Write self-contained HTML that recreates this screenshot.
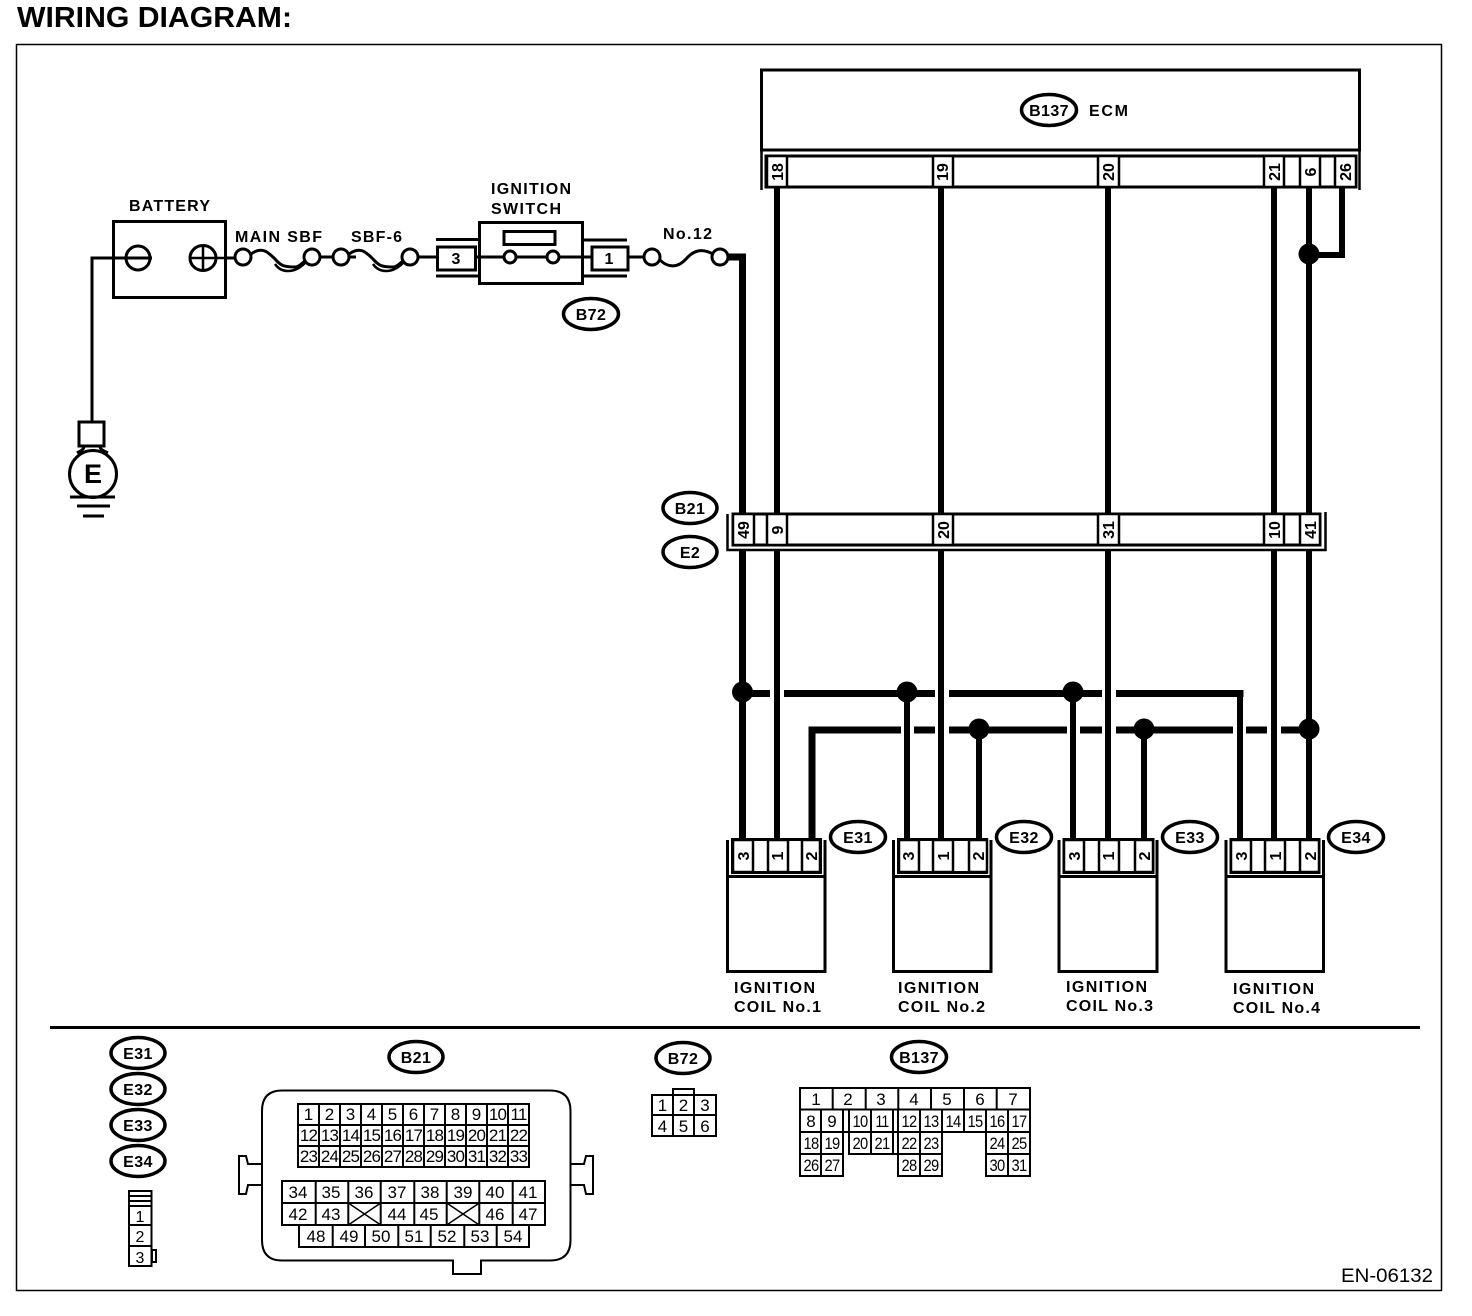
<!DOCTYPE html>
<html lang="en">
<head>
<meta charset="utf-8">
<title>Wiring Diagram</title>
<style>
html,body{margin:0;padding:0;background:#fff;}
svg{display:block;}
text{font-family:"Liberation Sans",Arial,sans-serif;fill:#000;}
.l{font-weight:bold;font-size:16px;}
.o{font-weight:bold;font-size:16px;text-anchor:middle;letter-spacing:.4px;}
.p{font-weight:bold;font-size:16px;text-anchor:middle;}
.g{font-size:17px;text-anchor:middle;}
.n{font-size:17px;text-anchor:middle;letter-spacing:-.8px;}
.w{stroke:#000;stroke-width:6;fill:none;}
.b{stroke:#000;stroke-width:7;fill:none;}
.s{stroke:#000;stroke-width:3;fill:#fff;}
.t{stroke:#000;stroke-width:2;fill:#fff;}
.e{stroke:#000;stroke-width:3.5;fill:#fff;}
</style>
</head>
<body>
<svg width="1472" height="1316" viewBox="0 0 1472 1316" xmlns="http://www.w3.org/2000/svg">
<rect width="1472" height="1316" fill="#fff"/>
<text x="17" y="27" font-size="29" font-weight="bold" textLength="275" lengthAdjust="spacingAndGlyphs">WIRING DIAGRAM:</text>
<rect x="16.5" y="44.5" width="1425" height="1246" fill="none" stroke="#000" stroke-width="1.5"/>

<!-- Left wiring -->
<path d="M138,258H92V422" fill="none" stroke="#000" stroke-width="3"/>
<path d="M216,258H235M320,257H333M349,257H356M418,257H437M476,257H503M517,257H546M560,257H591M628,257H644" stroke="#000" stroke-width="3" fill="none"/>
<rect x="113.5" y="221.5" width="112" height="76" class="s"/>
<path d="M92,258H152" stroke="#000" stroke-width="3"/>
<ellipse cx="138" cy="258" rx="12" ry="12" fill="none" stroke="#000" stroke-width="3"/>
<ellipse cx="203" cy="258" rx="13" ry="12.5" fill="none" stroke="#000" stroke-width="3"/>
<path d="M190,258H235M203,246V270" stroke="#000" stroke-width="2.5" fill="none"/>
<rect x="79" y="422" width="25" height="24" class="s"/>
<path d="M84,446C84,450 80,451 77,453M100,446C100,450 104,451 108,453" stroke="#000" stroke-width="3" fill="none"/>
<ellipse cx="93" cy="474" rx="23.500" ry="23.500" class="s"/>
<text x="93" y="483" font-size="27" font-weight="bold" text-anchor="middle">E</text>
<path d="M70,497H115M77,506H110M83,516H104" stroke="#000" stroke-width="3" fill="none"/>

<!-- Fuses -->
<g fill="none" stroke="#000" stroke-width="3">
<path d="M251,254C262,246 268,252 275,259C281,266 284,267 296,267C300,266 302,263 305,261"/>
<path d="M275,264C281,273 294,274 305,263" stroke-width="2.500"/>
<path d="M349,254C360,246 366,252 373,259C379,266 382,267 394,267C398,266 400,263 403,261"/>
<path d="M373,264C379,273 392,274 403,263" stroke-width="2.500"/>
<path d="M660,260C668,268 678,268 686,259C694,250 702,248 713,254"/>
</g>
<g fill="#fff" stroke="#000" stroke-width="3">
<circle cx="243" cy="257" r="8"/><circle cx="312" cy="257" r="8"/>
<circle cx="341" cy="257" r="8"/><circle cx="410" cy="257" r="8"/>
<circle cx="510" cy="257" r="6"/><circle cx="553" cy="257" r="6"/>
<circle cx="652" cy="257" r="8"/><circle cx="720" cy="257" r="8"/>
</g>

<!-- Ignition switch -->
<path d="M436,239.500H479M436,276H479M583,240H627M583,276H627" stroke="#000" stroke-width="3" fill="none"/>
<rect x="437.500" y="247" width="38" height="23" class="s"/>
<rect x="479.500" y="222.500" width="103" height="61" fill="none" stroke="#000" stroke-width="3"/>
<rect x="504" y="231.500" width="51" height="13" class="s"/>
<rect x="592" y="247" width="36" height="23" class="s"/>
<text x="456" y="264" font-size="16" font-weight="bold" text-anchor="middle">3</text>
<text x="609" y="264" font-size="16" font-weight="bold" text-anchor="middle">1</text>

<text x="129" y="211" class="l" textLength="81">BATTERY</text>
<text x="235" y="242" class="l" textLength="87">MAIN SBF</text>
<text x="351" y="242" class="l" textLength="51">SBF-6</text>
<text x="491" y="194" class="l" textLength="80">IGNITION</text>
<text x="491" y="214" class="l" textLength="70">SWITCH</text>
<text x="663" y="239" class="l" textLength="49">No.12</text>
<ellipse cx="591" cy="314" rx="27.500" ry="15.500" class="e"/>
<text x="591" y="320" class="o">B72</text>

<!-- ECM -->
<rect x="761.500" y="70" width="598" height="80" fill="#fff" stroke="#000" stroke-width="3"/>
<path d="M761.500,150V190M1359.500,150V190" stroke="#000" stroke-width="2.500"/>
<rect x="766" y="156" width="590" height="31" class="s"/>
<g stroke="#000" stroke-width="2.500" fill="#fff">
<rect x="767" y="156" width="20" height="31"/>
<rect x="933" y="156" width="20" height="31"/>
<rect x="1098" y="156" width="21" height="31"/>
<rect x="1264" y="156" width="20" height="31"/>
<rect x="1300" y="156" width="20" height="31"/>
<rect x="1335" y="156" width="21" height="31"/>
</g>
<text transform="translate(783,172) rotate(-90)" class="p">18</text>
<text transform="translate(948,172) rotate(-90)" class="p">19</text>
<text transform="translate(1114,172) rotate(-90)" class="p">20</text>
<text transform="translate(1280,172) rotate(-90)" class="p">21</text>
<text transform="translate(1316,172) rotate(-90)" class="p">6</text>
<text transform="translate(1351,172) rotate(-90)" class="p">26</text>
<ellipse cx="1049" cy="110" rx="27.500" ry="15.500" class="e"/>
<text x="1049" y="116" class="o">B137</text>
<text x="1089" y="116" class="l" textLength="39">ECM</text>

<!-- Main wires ECM to B21 -->
<path d="M777,187V515M941,187V515M1108,187V515M1274,187V515M1309,187V515" class="w"/>
<path d="M1342,187V255H1309" class="w"/>
<ellipse cx="1309" cy="254" rx="10.500" ry="10.500" fill="#000"/>
<path d="M728,257H742.500V515" class="b"/>

<!-- B21 / E2 connector -->
<path d="M727.500,514V550H1325.500V512" fill="none" stroke="#000" stroke-width="2.500"/>
<rect x="733" y="514" width="587" height="31" class="s"/>
<g stroke="#000" stroke-width="2.500" fill="#fff">
<rect x="733" y="514" width="21" height="31"/>
<rect x="767" y="514" width="20" height="31"/>
<rect x="933" y="514" width="20" height="31"/>
<rect x="1098" y="514" width="21" height="31"/>
<rect x="1264" y="514" width="20" height="31"/>
<rect x="1300" y="514" width="20" height="31"/>
</g>
<text transform="translate(749,530) rotate(-90)" class="p">49</text>
<text transform="translate(783,530) rotate(-90)" class="p">9</text>
<text transform="translate(949,530) rotate(-90)" class="p">20</text>
<text transform="translate(1114,530) rotate(-90)" class="p">31</text>
<text transform="translate(1280,530) rotate(-90)" class="p">10</text>
<text transform="translate(1316,530) rotate(-90)" class="p">41</text>
<ellipse cx="690" cy="508" rx="27" ry="15.500" class="e"/>
<text x="690" y="514" class="o">B21</text>
<ellipse cx="690" cy="552" rx="27" ry="15.500" class="e"/>
<text x="690" y="558" class="o">E2</text>

<!-- Wires below B21 -->
<path d="M742.500,551V840" class="b"/>
<path d="M777,551V840M941,551V840M1108,551V840M1274,551V840M1309,551V840M907,692V840M1073,692V840M979,730V840M1144,730V840" class="w"/>
<path d="M742,693.500H770M784,693.500H935M949,693.500H1102M1116,693.500H1243.500" class="b"/>
<path d="M1240,693V840" class="w"/>
<path d="M812,840V730H901M914,730H935M949,730H1067M1080,730H1102M1116,730H1233M1246,730H1267M1281,730H1309" class="b"/>
<g fill="#000">
<ellipse cx="742.500" cy="692" rx="10.500" ry="10.500"/>
<ellipse cx="907" cy="692" rx="10.500" ry="10.500"/>
<ellipse cx="1073" cy="692" rx="10.500" ry="10.500"/>
<ellipse cx="979" cy="729" rx="10.500" ry="10.500"/>
<ellipse cx="1144" cy="729" rx="10.500" ry="10.500"/>
<ellipse cx="1309" cy="729" rx="10.500" ry="10.500"/>
</g>

<!-- Coils -->
<g>
<path d="M727.500,840V971.500H825V840" fill="none" stroke="#000" stroke-width="3"/>
<path d="M727.500,876.500H825" stroke="#000" stroke-width="3"/>
<rect x="732.500" y="839.500" width="88" height="33" class="s"/>
<g stroke="#000" stroke-width="2.500" fill="#fff">
<rect x="733" y="840" width="20" height="32"/>
<rect x="768" y="840" width="20" height="32"/>
<rect x="802" y="840" width="18" height="32"/>
</g>
<text transform="translate(749,856) rotate(-90)" class="p">3</text>
<text transform="translate(783,856) rotate(-90)" class="p">1</text>
<text transform="translate(817,856) rotate(-90)" class="p">2</text>
</g>
<g>
<path d="M893.500,840V971.500H991V840" fill="none" stroke="#000" stroke-width="3"/>
<path d="M893.500,876.500H991" stroke="#000" stroke-width="3"/>
<rect x="898.500" y="839.500" width="88" height="33" class="s"/>
<g stroke="#000" stroke-width="2.500" fill="#fff">
<rect x="899" y="840" width="20" height="32"/>
<rect x="933" y="840" width="20" height="32"/>
<rect x="969" y="840" width="18" height="32"/>
</g>
<text transform="translate(914,856) rotate(-90)" class="p">3</text>
<text transform="translate(949,856) rotate(-90)" class="p">1</text>
<text transform="translate(984,856) rotate(-90)" class="p">2</text>
</g>
<g>
<path d="M1059,840V971.500H1157V840" fill="none" stroke="#000" stroke-width="3"/>
<path d="M1059,876.500H1157" stroke="#000" stroke-width="3"/>
<rect x="1064" y="839.500" width="89" height="33" class="s"/>
<g stroke="#000" stroke-width="2.500" fill="#fff">
<rect x="1064" y="840" width="20" height="32"/>
<rect x="1099" y="840" width="20" height="32"/>
<rect x="1135" y="840" width="18" height="32"/>
</g>
<text transform="translate(1080,856) rotate(-90)" class="p">3</text>
<text transform="translate(1114,856) rotate(-90)" class="p">1</text>
<text transform="translate(1150,856) rotate(-90)" class="p">2</text>
</g>
<g>
<path d="M1226,840V971.500H1323.500V840" fill="none" stroke="#000" stroke-width="3"/>
<path d="M1226,876.500H1323.500" stroke="#000" stroke-width="3"/>
<rect x="1231" y="839.500" width="88" height="33" class="s"/>
<g stroke="#000" stroke-width="2.500" fill="#fff">
<rect x="1231" y="840" width="20" height="32"/>
<rect x="1265" y="840" width="20" height="32"/>
<rect x="1300" y="840" width="19" height="32"/>
</g>
<text transform="translate(1247,856) rotate(-90)" class="p">3</text>
<text transform="translate(1281,856) rotate(-90)" class="p">1</text>
<text transform="translate(1316,856) rotate(-90)" class="p">2</text>
</g>
<ellipse cx="858" cy="837" rx="27.500" ry="15.500" class="e"/><text x="858" y="843" class="o">E31</text>
<ellipse cx="1024" cy="837" rx="27.500" ry="15.500" class="e"/><text x="1024" y="843" class="o">E32</text>
<ellipse cx="1190" cy="837" rx="27.500" ry="15.500" class="e"/><text x="1190" y="843" class="o">E33</text>
<ellipse cx="1356" cy="837" rx="27.500" ry="15.500" class="e"/><text x="1356" y="843" class="o">E34</text>

<text x="734" y="993" class="l" textLength="81">IGNITION</text>
<text x="734" y="1012" class="l" textLength="87">COIL No.1</text>
<text x="898" y="993" class="l" textLength="81">IGNITION</text>
<text x="898" y="1012" class="l" textLength="87">COIL No.2</text>
<text x="1066" y="992" class="l" textLength="81">IGNITION</text>
<text x="1066" y="1011" class="l" textLength="87">COIL No.3</text>
<text x="1233" y="994" class="l" textLength="81">IGNITION</text>
<text x="1233" y="1013" class="l" textLength="87">COIL No.4</text>

<path d="M50,1027.500H1420" stroke="#000" stroke-width="3"/>

<!-- Legend: E31..E34 -->
<ellipse cx="138" cy="1053" rx="27" ry="15.500" class="e"/><text x="138" y="1059" class="o">E31</text>
<ellipse cx="138" cy="1089" rx="27" ry="15.500" class="e"/><text x="138" y="1095" class="o">E32</text>
<ellipse cx="138" cy="1125" rx="27" ry="15.500" class="e"/><text x="138" y="1131" class="o">E33</text>
<ellipse cx="138" cy="1161" rx="27" ry="15.500" class="e"/><text x="138" y="1167" class="o">E34</text>
<rect x="129" y="1191" width="22.500" height="75" class="t"/>
<path d="M129,1196H151M129,1201H151M129,1206H151M129,1225H151M129,1246H151" stroke="#000" stroke-width="2" fill="none"/>
<rect x="152" y="1250" width="4" height="12" class="t"/>
<text x="140" y="1222" font-size="16" text-anchor="middle">1</text>
<text x="140" y="1242" font-size="16" text-anchor="middle">2</text>
<text x="140" y="1263" font-size="16" text-anchor="middle">3</text>

<!-- Legend: B21 -->
<ellipse cx="416" cy="1057" rx="27" ry="15.500" class="e"/><text x="416" y="1063" class="o">B21</text>
<path d="M282,1090.500H550Q570.500,1090.500 570.500,1111V1240Q570.500,1260.500 550,1260.500H481V1274H453V1260.500H282Q262,1260.500 262,1240V1111Q262,1090.500 282,1090.500Z" fill="#fff" stroke="#000" stroke-width="2"/>
<path d="M570.500,1164H584L586,1156H593V1194H586L584,1185H570.500M262,1164H248L246,1156H239V1194H246L248,1185H262" fill="none" stroke="#000" stroke-width="2"/>
<g fill="none" stroke="#000" stroke-width="2">
<rect x="298" y="1104" width="231" height="63"/>
<path d="M298,1125H529M298,1146H529M319,1104V1167M340,1104V1167M361,1104V1167M382,1104V1167M403,1104V1167M424,1104V1167M445,1104V1167M466,1104V1167M487,1104V1167M508,1104V1167"/>
<rect x="282" y="1181" width="263" height="44"/>
<path d="M282,1203H545M315.700,1181V1225M348.300,1181V1225M380.700,1181V1225M414.300,1181V1225M446.700,1181V1225M479.300,1181V1225M512.700,1181V1225"/>
<rect x="299" y="1225" width="230" height="22"/>
<path d="M332.700,1225V1247M365,1225V1247M398.300,1225V1247M430.700,1225V1247M464.300,1225V1247M496.700,1225V1247"/>
<path d="M348.300,1203L380.700,1225M348.300,1225L380.700,1203M446.700,1203L479.300,1225M446.700,1225L479.300,1203" stroke-width="1.500"/>
</g>
<text x="308.500" y="1120" class="g">1</text><text x="329.500" y="1120" class="g">2</text><text x="350.500" y="1120" class="g">3</text><text x="371.500" y="1120" class="g">4</text><text x="392.500" y="1120" class="g">5</text><text x="413.500" y="1120" class="g">6</text><text x="434.500" y="1120" class="g">7</text><text x="455.500" y="1120" class="g">8</text><text x="476.500" y="1120" class="g">9</text><text x="497.500" y="1120" class="n">10</text><text x="518.500" y="1120" class="n">11</text>
<text x="308.500" y="1141" class="n">12</text><text x="329.500" y="1141" class="n">13</text><text x="350.500" y="1141" class="n">14</text><text x="371.500" y="1141" class="n">15</text><text x="392.500" y="1141" class="n">16</text><text x="413.500" y="1141" class="n">17</text><text x="434.500" y="1141" class="n">18</text><text x="455.500" y="1141" class="n">19</text><text x="476.500" y="1141" class="n">20</text><text x="497.500" y="1141" class="n">21</text><text x="518.500" y="1141" class="n">22</text>
<text x="308.500" y="1162" class="n">23</text><text x="329.500" y="1162" class="n">24</text><text x="350.500" y="1162" class="n">25</text><text x="371.500" y="1162" class="n">26</text><text x="392.500" y="1162" class="n">27</text><text x="413.500" y="1162" class="n">28</text><text x="434.500" y="1162" class="n">29</text><text x="455.500" y="1162" class="n">30</text><text x="476.500" y="1162" class="n">31</text><text x="497.500" y="1162" class="n">32</text><text x="518.500" y="1162" class="n">33</text>
<text x="298" y="1198" class="g">34</text><text x="331" y="1198" class="g">35</text><text x="364" y="1198" class="g">36</text><text x="397" y="1198" class="g">37</text><text x="430" y="1198" class="g">38</text><text x="463" y="1198" class="g">39</text><text x="495" y="1198" class="g">40</text><text x="528" y="1198" class="g">41</text>
<text x="298" y="1220" class="g">42</text><text x="331" y="1220" class="g">43</text><text x="397" y="1220" class="g">44</text><text x="429" y="1220" class="g">45</text><text x="495" y="1220" class="g">46</text><text x="528" y="1220" class="g">47</text>
<text x="316" y="1242" class="g">48</text><text x="349" y="1242" class="g">49</text><text x="381" y="1242" class="g">50</text><text x="414" y="1242" class="g">51</text><text x="447" y="1242" class="g">52</text><text x="480" y="1242" class="g">53</text><text x="513" y="1242" class="g">54</text>

<!-- Legend: B72 -->
<ellipse cx="683" cy="1058" rx="27" ry="15.500" class="e"/><text x="683" y="1064" class="o">B72</text>
<g fill="none" stroke="#000" stroke-width="2">
<rect x="673" y="1089" width="21" height="6"/>
<rect x="652" y="1095" width="64" height="41"/>
<path d="M652,1115H716M673,1095V1136M694,1095V1136"/>
</g>
<text x="662.500" y="1111" class="g">1</text><text x="683.500" y="1111" class="g">2</text><text x="705" y="1111" class="g">3</text>
<text x="662.500" y="1132" class="g">4</text><text x="683.500" y="1132" class="g">5</text><text x="705" y="1132" class="g">6</text>

<!-- Legend: B137 -->
<ellipse cx="919" cy="1057" rx="27.500" ry="15.500" class="e"/><text x="919" y="1063" class="o">B137</text>
<g fill="none" stroke="#000" stroke-width="2">
<rect x="800" y="1088" width="230" height="21.500"/>
<path d="M832.700,1088V1109M865.700,1088V1109M898.300,1088V1109M931,1088V1109M964,1088V1109M996.700,1088V1109"/>
<path d="M800,1109.500V1176H843V1132H849V1154H898V1176H942V1132H986V1176H1030V1109.500"/>
<path d="M800,1132H843M800,1154H843M849,1132H986M986,1132H1030M986,1154H1030M898,1154H942M821,1109.500V1176M843,1109.500V1132M849,1109.500V1132M871,1109.500V1154M893,1109.500V1154M898,1109.500V1154M920,1109.500V1176M942,1109.500V1132M964,1109.500V1132M986,1109.500V1132M1008,1109.500V1176"/>
</g>
<text x="816" y="1105" class="g">1</text><text x="848" y="1105" class="g">2</text><text x="881" y="1105" class="g">3</text><text x="914" y="1105" class="g">4</text><text x="947" y="1105" class="g">5</text><text x="980" y="1105" class="g">6</text><text x="1013" y="1105" class="g">7</text>
<text x="811" y="1127" class="g">8</text><text x="832" y="1127" class="g">9</text>
<text x="860" y="1127" class="n" textLength="15" lengthAdjust="spacingAndGlyphs">10</text><text x="882" y="1127" class="n" textLength="13" lengthAdjust="spacingAndGlyphs">11</text>
<text x="909" y="1127" class="n" textLength="15" lengthAdjust="spacingAndGlyphs">12</text><text x="931" y="1127" class="n" textLength="15" lengthAdjust="spacingAndGlyphs">13</text>
<text x="953" y="1127" class="n" textLength="15" lengthAdjust="spacingAndGlyphs">14</text><text x="975" y="1127" class="n" textLength="15" lengthAdjust="spacingAndGlyphs">15</text>
<text x="997" y="1127" class="n" textLength="15" lengthAdjust="spacingAndGlyphs">16</text><text x="1019" y="1127" class="n" textLength="15" lengthAdjust="spacingAndGlyphs">17</text>
<text x="811" y="1149" class="n" textLength="15" lengthAdjust="spacingAndGlyphs">18</text><text x="832" y="1149" class="n" textLength="15" lengthAdjust="spacingAndGlyphs">19</text>
<text x="860" y="1149" class="n" textLength="15" lengthAdjust="spacingAndGlyphs">20</text><text x="882" y="1149" class="n" textLength="15" lengthAdjust="spacingAndGlyphs">21</text>
<text x="909" y="1149" class="n" textLength="15" lengthAdjust="spacingAndGlyphs">22</text><text x="931" y="1149" class="n" textLength="15" lengthAdjust="spacingAndGlyphs">23</text>
<text x="997" y="1149" class="n" textLength="15" lengthAdjust="spacingAndGlyphs">24</text><text x="1019" y="1149" class="n" textLength="15" lengthAdjust="spacingAndGlyphs">25</text>
<text x="811" y="1171" class="n" textLength="15" lengthAdjust="spacingAndGlyphs">26</text><text x="832" y="1171" class="n" textLength="15" lengthAdjust="spacingAndGlyphs">27</text>
<text x="909" y="1171" class="n" textLength="15" lengthAdjust="spacingAndGlyphs">28</text><text x="931" y="1171" class="n" textLength="15" lengthAdjust="spacingAndGlyphs">29</text>
<text x="997" y="1171" class="n" textLength="15" lengthAdjust="spacingAndGlyphs">30</text><text x="1019" y="1171" class="n" textLength="15" lengthAdjust="spacingAndGlyphs">31</text>

<text x="1341" y="1282" font-size="19" textLength="92" lengthAdjust="spacingAndGlyphs">EN-06132</text>
</svg>
</body>
</html>
